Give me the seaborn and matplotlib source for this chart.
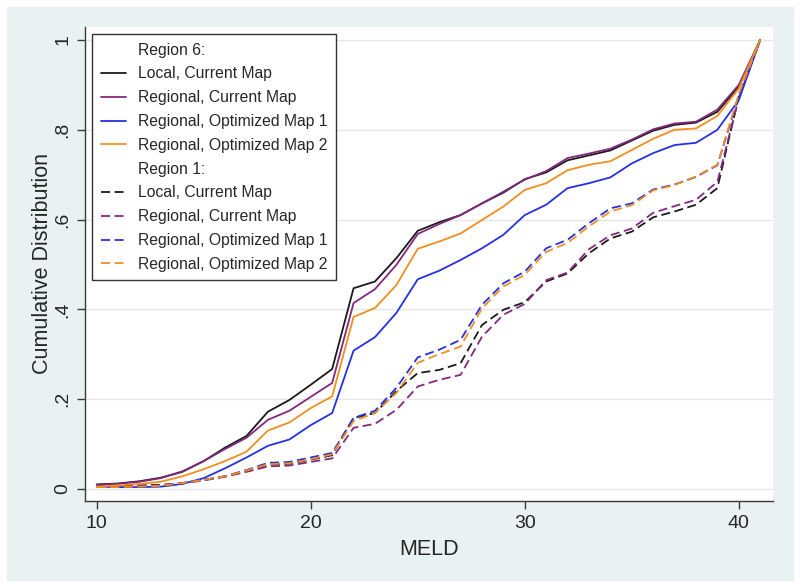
import pandas as pd
import matplotlib
matplotlib.use("Agg")
import matplotlib.pyplot as plt
from matplotlib.lines import Line2D
from matplotlib.patches import Rectangle
import seaborn as sns

sns.set_style("white")
plt.rcParams["font.family"] = ["Liberation Sans", "DejaVu Sans"]

# =========================
# DATA
# =========================
meld = list(range(10, 42))

# Region 6 (solid lines)
r6_local = [0.010, 0.012, 0.017, 0.025, 0.038, 0.062, 0.092, 0.118, 0.172, 0.198, 0.232, 0.267,
            0.447, 0.462, 0.514, 0.575, 0.594, 0.610, 0.636, 0.660, 0.690, 0.705, 0.732, 0.743,
            0.754, 0.776, 0.798, 0.811, 0.816, 0.840, 0.896, 1.000]
r6_regional = [0.009, 0.011, 0.016, 0.024, 0.039, 0.062, 0.089, 0.114, 0.154, 0.174, 0.205, 0.236,
               0.414, 0.445, 0.499, 0.568, 0.590, 0.610, 0.636, 0.662, 0.689, 0.708, 0.737, 0.747,
               0.758, 0.778, 0.801, 0.814, 0.818, 0.845, 0.900, 1.000]
r6_opt1 = [0.005, 0.004, 0.004, 0.005, 0.011, 0.024, 0.046, 0.070, 0.096, 0.110, 0.142, 0.169,
           0.308, 0.338, 0.392, 0.467, 0.486, 0.510, 0.536, 0.566, 0.610, 0.633, 0.670, 0.681,
           0.694, 0.725, 0.748, 0.766, 0.771, 0.800, 0.866, 1.000]
r6_opt2 = [0.005, 0.008, 0.011, 0.016, 0.028, 0.044, 0.062, 0.083, 0.130, 0.148, 0.180, 0.206,
           0.383, 0.403, 0.454, 0.535, 0.551, 0.569, 0.599, 0.629, 0.666, 0.681, 0.710, 0.722,
           0.730, 0.755, 0.780, 0.800, 0.803, 0.831, 0.892, 1.000]

# Region 1 (dashed lines)
r1_local = [0.008, 0.008, 0.008, 0.009, 0.013, 0.020, 0.028, 0.041, 0.054, 0.056, 0.065, 0.075,
            0.158, 0.169, 0.218, 0.258, 0.265, 0.280, 0.365, 0.399, 0.416, 0.462, 0.480, 0.525,
            0.558, 0.573, 0.605, 0.618, 0.633, 0.670, 0.874, 1.000]
r1_regional = [0.005, 0.005, 0.006, 0.008, 0.012, 0.019, 0.027, 0.038, 0.050, 0.052, 0.060, 0.068,
               0.136, 0.145, 0.176, 0.228, 0.243, 0.254, 0.339, 0.388, 0.412, 0.465, 0.482, 0.534,
               0.565, 0.580, 0.615, 0.630, 0.644, 0.684, 0.870, 1.000]
r1_opt1 = [0.004, 0.004, 0.005, 0.007, 0.013, 0.020, 0.028, 0.042, 0.058, 0.060, 0.070, 0.080,
           0.158, 0.174, 0.225, 0.293, 0.310, 0.332, 0.410, 0.458, 0.484, 0.536, 0.555, 0.592,
           0.625, 0.636, 0.667, 0.678, 0.695, 0.721, 0.876, 1.000]
r1_opt2 = [0.004, 0.004, 0.005, 0.007, 0.013, 0.020, 0.028, 0.041, 0.055, 0.057, 0.066, 0.077,
           0.151, 0.169, 0.214, 0.281, 0.300, 0.317, 0.402, 0.451, 0.477, 0.528, 0.548, 0.585,
           0.618, 0.632, 0.665, 0.677, 0.696, 0.722, 0.880, 1.000]

maps = ["Local, Current Map", "Regional, Current Map",
        "Regional, Optimized Map 1", "Regional, Optimized Map 2"]
colors = ["#1a1a1a", "#82287f", "#2530e2", "#f28e1e"]
regions = ["Region 6", "Region 1"]
series = {
    "Region 6": [r6_local, r6_regional, r6_opt1, r6_opt2],
    "Region 1": [r1_local, r1_regional, r1_opt1, r1_opt2],
}

rows = []
for reg in regions:
    for m, vals in zip(maps, series[reg]):
        for x, v in zip(meld, vals):
            rows.append({"MELD": x, "value": v, "Map": m, "Region": reg})
df = pd.DataFrame(rows)

# =========================
# PLOT
# =========================
bg = "#e9f1f3"
fig = plt.figure(figsize=(8, 5.87), dpi=100, facecolor="white")
fig.patches.append(Rectangle((7 / 800, 7 / 587), 786 / 800, 573 / 587,
                             transform=fig.transFigure, color=bg, zorder=-10))
ax = fig.add_axes([85 / 800, 1 - 501 / 587, (773 - 85) / 800, (501 - 27) / 587])
ax.set_zorder(5)
ax.set_facecolor("white")

dash = (5, 2.5)
sns.lineplot(data=df, x="MELD", y="value", hue="Map", style="Region",
             hue_order=maps, style_order=regions,
             palette=dict(zip(maps, colors)),
             dashes={"Region 6": "", "Region 1": dash},
             estimator=None, errorbar=None, lw=1.3, legend=False, ax=ax)

ax.set_xlim(9.45, 41.6)
ax.set_ylim(-0.027, 1.029)
ax.set_xticks([10, 20, 30, 40])
ax.set_yticks([0, 0.2, 0.4, 0.6, 0.8, 1.0])
ax.set_yticklabels(["0", ".2", ".4", ".6", ".8", "1"], rotation=90, va="center")
ax.grid(axis="y", color="#e6e6e6", lw=1)
ax.grid(axis="x", visible=False)
ax.set_axisbelow(True)

for s in ["top", "right"]:
    ax.spines[s].set_visible(False)
for s in ["left", "bottom"]:
    ax.spines[s].set_color("#3a3a3a")
    ax.spines[s].set_linewidth(1)
ax.tick_params(direction="out", length=6, width=1, color="#3a3a3a",
               labelsize=14, pad=4, left=True, bottom=True)

ax.set_xlabel("MELD", fontsize=15.5, labelpad=5)
ax.set_ylabel("Cumulative Distribution", fontsize=15.5, labelpad=1)

# legend with group headers
handles = [Line2D([], [], color="none", label="Region 6:")]
handles += [Line2D([], [], color=c, lw=1.3, label=m) for m, c in zip(maps, colors)]
handles += [Line2D([], [], color="none", label="Region 1:")]
handles += [Line2D([], [], color=c, lw=1.3, ls=(0, dash), label=m) for m, c in zip(maps, colors)]

leg = ax.legend(handles=handles, loc="upper left", bbox_to_anchor=(0, 1),
                borderaxespad=0.45, fontsize=11.3, frameon=True, fancybox=False,
                edgecolor="#333333", framealpha=1, handlelength=1.6,
                handletextpad=0.8, labelspacing=0.56, borderpad=0.55)
leg.get_frame().set_linewidth(1)

plt.savefig("out.png", dpi=100, facecolor=fig.get_facecolor())
